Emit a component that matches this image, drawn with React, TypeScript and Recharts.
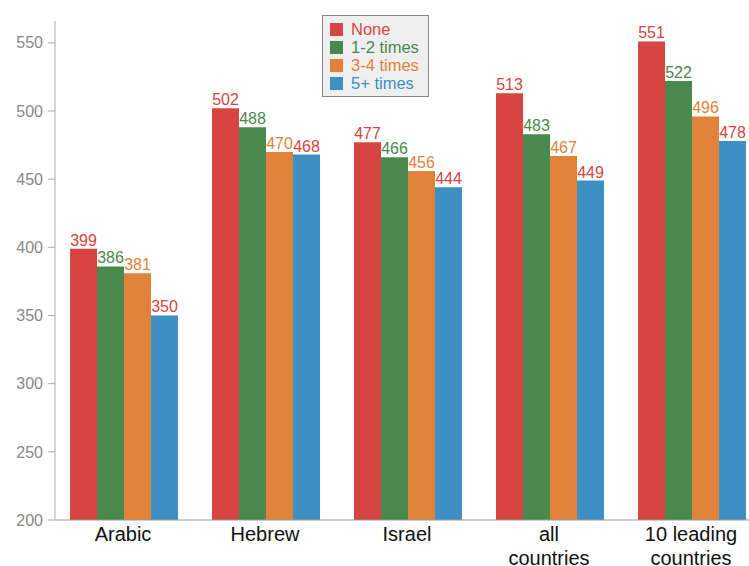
import { BarChart, Bar, XAxis, YAxis, LabelList } from "recharts";

const categories = ["Arabic", "Hebrew", "Israel", "all\ncountries", "10 leading\ncountries"];
const none = [399, 502, 477, 513, 551];
const times12 = [386, 488, 466, 483, 522];
const times34 = [381, 470, 456, 467, 496];
const times5 = [350, 468, 444, 449, 478];
const yTicks = [200, 250, 300, 350, 400, 450, 500, 550];

const series = [
  { key: "none", name: "None", color: "#d64541", label: "#d64541" },
  { key: "t12", name: "1-2 times", color: "#4a894d", label: "#4a894d" },
  { key: "t34", name: "3-4 times", color: "#e1823a", label: "#e1823a" },
  { key: "t5", name: "5+ times", color: "#3e8fc3", label: "#d64541" },
];

const data = categories.map((c, i) => ({
  cat: c,
  none: none[i],
  t12: times12[i],
  t34: times34[i],
  t5: times5[i],
}));

const font = "'Liberation Sans', Arial, sans-serif";

function CatTick(props: any) {
  const { x, y, payload } = props;
  const lines = String(payload.value).split("\n");
  return (
    <text x={x} y={y} textAnchor="middle" fill="#111" fontSize={20} fontFamily={font}>
      {lines.map((l, i) => (
        <tspan key={i} x={x} dy={i === 0 ? 19 : 24}>{l}</tspan>
      ))}
    </text>
  );
}

// legend drawn as an overlay so it doesn't eat plot space
function LegendBox() {
  return (
    <div
      style={{
        position: "absolute",
        left: 322,
        top: 15,
        background: "#efefef",
        border: "1px solid #888",
        width: 107,
        padding: "4px 0 4px 7px",
        boxSizing: "border-box",
        fontFamily: font,
        fontSize: 16.5,
      }}
    >
      {series.map((s) => (
        <div key={s.key} style={{ display: "flex", alignItems: "center", height: 18 }}>
          <span style={{ width: 13, height: 13, background: s.color, display: "inline-block", marginRight: 8 }} />
          <span style={{ color: s.color, lineHeight: "18px" }}>{s.name}</span>
        </div>
      ))}
    </div>
  );
}

export default function App() {
  return (
    <div style={{ position: "fixed", left: 0, top: 0, width: 749, height: 566, overflow: "hidden", background: "#fff" }}>
      <BarChart
        width={770}
        height={590}
        data={data}
        margin={{ top: 21, right: 5, bottom: 10, left: 0 }}
        barCategoryGap={18}
        barGap={0}
      >
        <XAxis
          dataKey="cat"
          tick={<CatTick />}
          tickLine={false}
          tickSize={0}
          height={60}
          interval={0}
          padding={{ left: -3, right: 3 }}
          axisLine={{ stroke: "#999" }}
        />
        <YAxis
          domain={[200, 566]}
          ticks={yTicks}
          width={55}
          tickSize={7}
          tickMargin={5}
          allowDataOverflow
          axisLine={{ stroke: "#aaa" }}
          tickLine={{ stroke: "#aaa" }}
          tick={{ fill: "#888", fontSize: 16, fontFamily: font }}
        />
        {series.map((s) => (
          <Bar key={s.key} dataKey={s.key} name={s.name} fill={s.color} isAnimationActive={false}>
            <LabelList
              dataKey={s.key}
              position="top"
              offset={3}
              fill={s.label}
              fontSize={16}
              fontFamily={font}
            />
          </Bar>
        ))}
      </BarChart>
      <LegendBox />
    </div>
  );
}
